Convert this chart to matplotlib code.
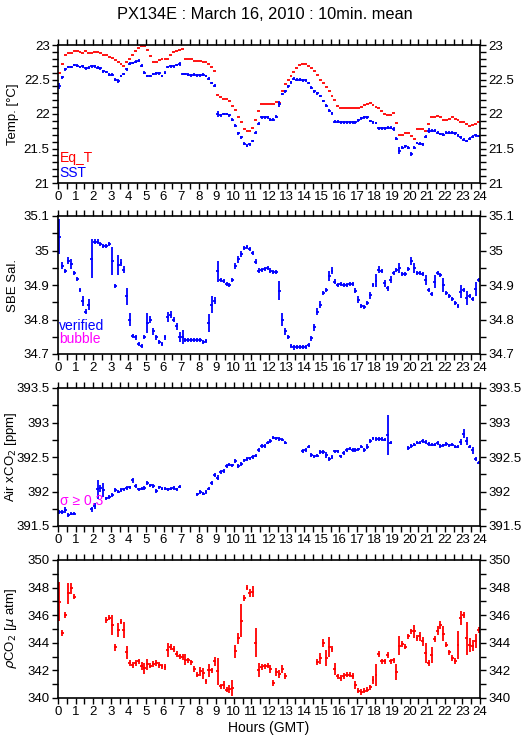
import numpy as np
import matplotlib
matplotlib.use("Agg")
import matplotlib.pyplot as plt
from matplotlib.ticker import MultipleLocator, FormatStrFormatter

plt.rcParams['font.family'] = ['Liberation Sans', 'DejaVu Sans']

# 10 minute means, 144 slots over the day (None = no data)
eq_t = [22.60, 22.73, 22.86, 22.89, 22.89, 22.91,
        22.91, 22.90, 22.89, 22.92, 22.89, 22.89,
        22.90, 22.90, 22.89, 22.86, 22.85, 22.83,
        22.81, 22.78, 22.76, 22.73, 22.70, 22.76,
        22.79, 22.86, 22.92, 22.96, 22.99, 22.98,
        22.93, 22.84, 22.76, 22.76, 22.78, 22.80,
        22.80, 22.80, 22.85, 22.90, 22.91, 22.93,
        22.94, 22.79, 22.79, 22.79, 22.77, 22.77,
        22.77, 22.76, 22.75, 22.72, 22.68, 22.63,
        22.28, 22.24, 22.22, 22.22, 22.19, 22.11,
        22.06, 21.95, 21.88, 21.78, 21.76, 21.75,
        21.80, 21.91, 22.04, 22.15, 22.15, 22.15,
        22.15, 22.15, 22.17, 22.16, 22.34, 22.43,
        22.50, 22.55, 22.61, 22.67, 22.71, 22.72,
        22.72, 22.70, 22.67, 22.62, 22.56, 22.50,
        22.45, 22.39, 22.33, 22.26, 22.20, 22.11,
        22.09, 22.08, 22.09, 22.09, 22.08, 22.08,
        22.08, 22.10, 22.13, 22.15, 22.16, 22.13,
        22.10, 22.08, 22.05, 22.00, 21.99, 21.99,
        22.01, 21.87, 21.69, 21.70, 21.72, 21.72,
        21.68, 21.64, 21.78, 21.78, 21.78, 21.76,
        21.86, 21.96, 21.96, 21.97, 21.95, 21.92,
        21.91, 21.93, 21.95, 21.93, 21.92, 21.89,
        21.89, 21.85, 21.82, 21.84, 21.86, 21.89]

sst = [22.41, 22.53, 22.65, 22.68, 22.68, 22.71,
       22.70, 22.68, 22.69, 22.66, 22.67, 22.69,
       22.69, 22.67, 22.66, 22.62, 22.61, 22.57,
       22.57, 22.50, 22.48, 22.55, 22.58, 22.65,
       22.73, 22.74, 22.76, 22.77, 22.70, 22.60,
       22.55, 22.55, 22.58, 22.59, 22.59, 22.55,
       22.60, 22.68, 22.69, 22.69, 22.71, 22.72,
       22.58, 22.58, 22.57, 22.56, 22.57, 22.56,
       22.56, 22.57, 22.55, 22.51, 22.45, 22.41,
       22.00, 21.98, 22.00, 22.00, 21.98, 21.92,
       21.83, 21.72, 21.66, 21.57, 21.54, 21.56,
       21.61, 21.73, 21.86, 21.95, 21.95, 21.95,
       21.92, 21.92, 21.96, 22.15, 22.29, 22.33,
       22.40, 22.46, 22.51, 22.50, 22.50, 22.49,
       22.49, 22.45, 22.38, 22.33, 22.30, 22.26,
       22.19, 22.12, 22.05, 22.01, 21.89, 21.89,
       21.88, 21.88, 21.88, 21.88, 21.88, 21.88,
       21.91, 21.94, 21.95, 21.95, 21.90, 21.88,
       21.87, 21.79, 21.79, 21.79, 21.80, 21.80,
       21.78, 21.64, 21.47, 21.51, 21.53, 21.51,
       21.42, 21.51, 21.58, 21.57, 21.56, 21.67,
       21.76, 21.76, 21.76, 21.73, 21.71, 21.70,
       21.73, 21.73, 21.73, 21.72, 21.69, 21.66,
       21.63, 21.61, 21.64, 21.67, 21.69, 21.68]
sst_std = {0: 0.045, 20: 0.025, 28: 0.025, 41: 0.03, 54: 0.045, 75: 0.045,
           114: 0.03, 116: 0.05, 120: 0.025, 126: 0.03}

sal = [35.04, 34.956, 34.94, 34.97, 34.96, 34.934,
       34.917, 34.886, 34.854, 34.823, 34.843, 34.976,
       35.026, 35.026, 35.02, 35.013, 35.013, 35.02,
       34.97, 34.896, 34.958, 34.965, 34.944, 34.867,
       34.80, 34.751, 34.748, 34.73, 34.722, 34.75,
       34.79, 34.80, 34.766, 34.748, 34.734, 34.73,
       34.748, 34.807, 34.814, 34.80, 34.78, 34.75,
       34.75, 34.74, 34.74, 34.74, 34.74, 34.74,
       34.74, 34.734, 34.737, 34.79, 34.843, 34.855,
       34.94, 34.915, 34.912, 34.903, 34.90, 34.915,
       34.955, 34.975, 34.99, 35.007, 35.011, 35.004,
       34.994, 34.968, 34.942, 34.944, 34.947, 34.95,
       34.942, 34.938, 34.938, 34.884, 34.80, 34.766,
       34.749, 34.722, 34.719, 34.72, 34.72, 34.72,
       34.72, 34.725, 34.745, 34.777, 34.823, 34.843,
       34.876, 34.886, 34.927, 34.941, 34.91, 34.90,
       34.902, 34.90, 34.90, 34.902, 34.902, 34.884,
       34.857, 34.84, 34.836, 34.848, 34.87, 34.90,
       34.913, 34.944, 34.94, 34.905, 34.89, 34.915,
       34.936, 34.944, 34.949, 34.932, 34.932, 34.946,
       34.97, 34.949, 34.936, 34.936, 34.932, 34.915,
       34.886, 34.874, 34.91, 34.934, 34.929, 34.90,
       34.876, 34.867, 34.859, 34.848, 34.84, 34.881,
       34.886, 34.862, 34.867, 34.859, 34.888, 34.915]
sal_std = {0: 0.05, 1: 0.01, 3: 0.01, 4: 0.015, 8: 0.015, 10: 0.015, 11: 0.057,
           18: 0.04, 20: 0.03, 21: 0.01, 22: 0.01, 23: 0.025, 24: 0.02,
           30: 0.03, 31: 0.01, 32: 0.01, 37: 0.015, 38: 0.01, 40: 0.01,
           41: 0.015, 42: 0.02, 51: 0.025, 52: 0.025, 53: 0.01, 54: 0.03,
           60: 0.01, 61: 0.01, 62: 0.01, 75: 0.028, 76: 0.02, 77: 0.01,
           87: 0.01, 88: 0.01, 89: 0.01, 92: 0.015, 93: 0.01, 102: 0.01,
           106: 0.01, 108: 0.02, 109: 0.01, 111: 0.01, 113: 0.01, 116: 0.015,
           120: 0.012, 121: 0.015, 125: 0.015, 128: 0.02, 131: 0.02,
           137: 0.02, 139: 0.02, 142: 0.02}

air = [391.70, 391.70, 391.73, 391.66, 391.68, 391.68,
       None, None, None, None, None, 391.74,
       391.79, 392.03, 392.05, 392.02, 391.90, 391.92,
       391.95, 392.02, 392.00, 392.02, 392.03, 392.05,
       392.06, 392.16, 392.08, 392.03, 392.04, 392.05,
       392.12, 392.09, 392.08, 392.01, 392.06, 392.04,
       392.04, 392.03, 392.04, 392.05, 392.03, 392.07,
       None, None, None, None, None, 391.96,
       391.99, 391.97, 391.99, 392.04, 392.12, 392.24,
       392.20, 392.28, 392.30, 392.37, 392.39, 392.38,
       392.44, 392.37, 392.40, 392.45, 392.47, 392.48,
       392.50, 392.52, 392.60, 392.66, 392.66, 392.71,
       392.73, 392.78, 392.77, 392.76, 392.75, 392.71,
       None, None, None, None, None, 392.59,
       392.60, 392.65, 392.53, 392.51, 392.52, 392.57,
       392.57, 392.53, 392.47, 392.50, 392.58, 392.58,
       392.51, 392.56, 392.60, 392.62, 392.60, 392.60,
       392.61, 392.65, 392.60, 392.65, 392.73, 392.77,
       392.76, 392.76, 392.76, 392.75, 392.82, 392.71,
       None, None, None, None, None, 392.63,
       392.66, 392.68, 392.71, 392.71, 392.73, 392.72,
       392.69, 392.68, 392.68, 392.70, 392.66, 392.67,
       392.69, 392.67, 392.68, 392.65, 392.65, 392.72,
       392.84, 392.73, 392.65, 392.60, 392.47, 392.42]
air_std = {2: 0.04, 11: 0.03, 12: 0.05, 13: 0.14, 14: 0.05, 15: 0.1, 25: 0.04,
           54: 0.04, 60: 0.03, 89: 0.03, 91: 0.04, 105: 0.04, 112: 0.29,
           137: 0.04, 138: 0.06, 139: 0.06, 141: 0.05}

pco2 = [346.99, 344.70, 346.02, 347.59, 347.95, 347.35,
        None, None, None, None, None, None,
        None, None, None, None, 345.66, 345.83,
        345.30, 343.69, 344.90, 345.54, 344.94, 343.30,
        342.53, 342.41, 342.53, 342.65, 342.34, 342.17,
        342.46, 342.34, 342.48, 342.53, 342.41, 342.29,
        342.25, 343.50, 343.70, 343.54, 343.18, 343.01,
        342.96, 342.77, 342.72, 342.58, 342.10, 341.69,
        341.93, 341.80, 341.20, 342.00, 342.00, 342.65,
        341.93, 340.84, 340.96, 340.60, 340.67, 340.72,
        343.37, 344.34, 345.59, 347.23, 348.00, 347.59,
        347.71, 344.02, 342.05, 342.24, 342.29, 342.34,
        342.10, 341.08, 341.88, 341.73, 342.10, 341.61,
        None, None, None, None, None, None,
        None, None, None, None, 342.60, 342.89,
        343.98, 342.89, 343.69, 343.54, 342.12, 341.57,
        341.45, 341.61, 341.69, 341.69, 341.61, 340.96,
        340.53, 340.43, 340.53, 340.60, 340.77, 341.28,
        341.69, 343.20, 342.65, 342.65, 343.13, 342.65,
        342.72, 341.88, 343.78, 343.93, 343.73, 344.46,
        344.82, 344.82, 344.34, 344.46, 344.10, 343.25,
        342.53, 343.13, 344.27, 344.89, 345.30, 344.65,
        343.86, 343.30, 342.89, 342.70, 343.86, 345.78,
        346.02, 344.34, 343.86, 343.78, 344.14, 344.94]
pco2_std = {0: 1.4, 1: 0.2, 2: 0.2, 3: 0.75, 4: 0.4, 17: 0.15, 18: 0.75,
            19: 0.25, 20: 0.5, 21: 0.2, 22: 0.6, 23: 0.5, 28: 0.3, 29: 0.4,
            30: 0.4, 37: 0.5, 43: 0.4, 48: 0.3, 49: 0.4, 51: 0.5, 53: 0.35,
            54: 1.0, 56: 0.3, 58: 0.3, 59: 0.6, 60: 0.5, 61: 0.4, 62: 1.2,
            65: 0.3, 66: 0.4, 67: 1.05, 68: 0.5, 72: 0.3, 74: 0.3, 75: 0.3,
            76: 0.3, 89: 0.4, 90: 0.3, 91: 0.6, 92: 0.7, 94: 0.45, 101: 0.3,
            107: 0.3, 108: 0.8, 115: 0.6, 116: 0.7, 121: 0.45, 123: 0.3,
            124: 0.3, 125: 0.7, 127: 0.6, 129: 0.3, 130: 0.3, 131: 0.55,
            136: 1.0, 137: 0.5, 139: 1.2, 140: 0.5, 141: 0.4, 142: 0.5}

hours = np.arange(144) / 6 + 1 / 12


def std_array(default, big):
    s = np.full(144, default)
    for k, v in big.items():
        s[k] = v
    return s


def bars(ax, y, yerr, color):
    y = np.array(y, dtype=float)
    ok = ~np.isnan(y)
    ye = None if yerr is None else yerr[ok]
    ax.errorbar(hours[ok], y[ok], xerr=1 / 12, yerr=ye, fmt='none',
                ecolor=color, elinewidth=1.3, capsize=0)


fig = plt.figure(figsize=(5.29, 7.39), dpi=100)
W, H = 529, 739
tops = [45, 216, 388, 560]
axes = []
for top in tops:
    ax = fig.add_axes([58 / W, 1 - (top + 138) / H, 422 / W, 138 / H])
    axes.append(ax)

specs = [
    (21, 23, 0.5, 0.1, 'Temp. [°C]'),
    (34.7, 35.1, 0.1, 0.05, 'SBE Sal.'),
    (391.5, 393.5, 0.5, 0.25, 'Air xCO$_2$ [ppm]'),
    (340, 350, 2, 1, r'$\rho$CO$_2$ [$\mu$ atm]'),
]
for ax, (lo, hi, maj, mnr, lab) in zip(axes, specs):
    ax.set_xlim(0, 24)
    ax.set_ylim(lo, hi)
    ax.xaxis.set_major_locator(MultipleLocator(1))
    ax.xaxis.set_minor_locator(MultipleLocator(0.5))
    ax.yaxis.set_major_locator(MultipleLocator(maj))
    ax.yaxis.set_minor_locator(MultipleLocator(mnr))
    ax.yaxis.set_major_formatter(FormatStrFormatter('%g'))
    ax.tick_params(which='both', direction='out', top=True, right=True,
                   labelright=True, labelsize=9.5, width=1, pad=2)
    ax.tick_params(which='major', length=4)
    ax.tick_params(which='minor', length=4)
    ax.set_ylabel(lab, fontsize=9.5)
    ax.yaxis.set_label_coords(-0.092, 0.5)
    for s in ax.spines.values():
        s.set_linewidth(1.2)

ax1, ax2, ax3, ax4 = axes
bars(ax1, eq_t, None, '#ff0000')
bars(ax1, sst, std_array(0.02, sst_std), '#0000ff')
ax1.text(0.1, 21.3, 'Eq_T', color='#ff0000', fontsize=10)
ax1.text(0.1, 21.08, 'SST', color='#0000ff', fontsize=10)

bars(ax2, sal, std_array(0.006, sal_std), '#0000ff')
ax2.text(0.05, 34.77, 'verified', color='#0000ff', fontsize=10)
ax2.text(0.05, 34.733, 'bubble', color='#ff00ff', fontsize=10)

bars(ax3, air, std_array(0.025, air_std), '#0000ff')
ax3.text(0.1, 391.8, '\u03c3 \u2265 0.3', color='#ff00ff', fontsize=10)

bars(ax4, pco2, std_array(0.2, pco2_std), '#ff0000')
ax4.set_xlabel('Hours (GMT)', fontsize=10, labelpad=2)

fig.suptitle('PX134E : March 16, 2010 : 10min. mean', y=0.99, fontsize=11.8)

fig.savefig('out.png', dpi=100)
